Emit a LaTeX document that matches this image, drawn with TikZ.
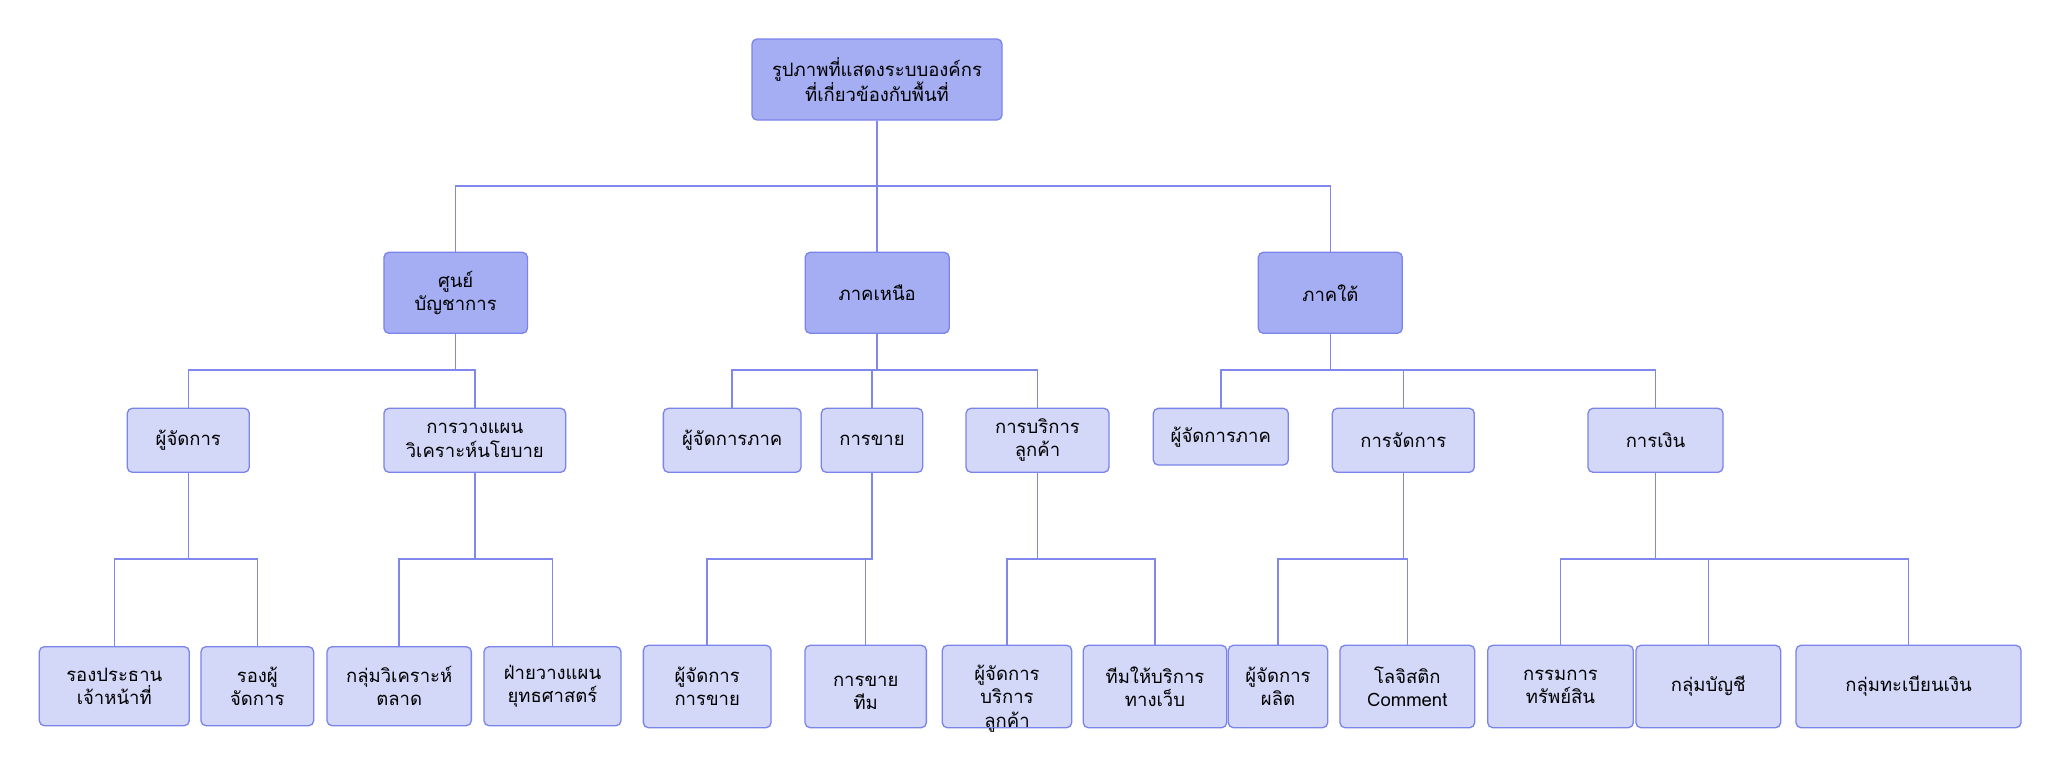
\documentclass[tikz,border=0pt]{standalone}
\usepackage{fontspec}
\setmainfont[Script=Thai]{Loma}
\definecolor{darkfill}{RGB}{165,174,242}
\definecolor{lightfill}{RGB}{211,215,248}
\definecolor{bordercol}{RGB}{123,132,236}
\definecolor{linecol}{RGB}{128,136,238}
\begin{document}
\begin{tikzpicture}[x=1pt,y=-1pt,
  box/.style={draw=bordercol, line width=1.3pt, rounded corners=5pt, align=center,
    inner sep=0pt, font=\fontsize{18.5}{23.3}\selectfont, text=black},
  dark/.style={box, fill=darkfill, minimum height=81pt},
  lvtwo/.style={box, fill=lightfill, minimum height=64pt},
  lvthree/.style={box, fill=lightfill, minimum height=82.4pt},
  lvthreeb/.style={box, fill=lightfill, minimum height=79pt},
  txt/.style={align=center, inner sep=0pt, font=\fontsize{18.5}{23.3}\selectfont, text=black},
  conn/.style={draw=linecol, line width=1.5pt}]
\useasboundingbox (0,0) rectangle (2056,763);
\fill[white] (0,0) rectangle (2056,763);

% level 0
\node[dark, minimum width=250pt] (top) at (877,79.5) {รูปภาพที่แสดงระบบองค์กร\\ที่เกี่ยวข้องกับพื้นที่};

% level 1
\node[dark, minimum width=143.5pt] (sun) at (455.7,292.8) {ศูนย์\\บัญชาการ};
\node[dark, minimum width=144pt] (north) at (877.2,292.8) {ภาคเหนือ};
\node[dark, minimum width=144pt] (south) at (1330.3,292.8) {ภาคใต้};

% level 2
\node[lvtwo, minimum width=122pt] (mgr) at (188.3,440.3) {ผู้จัดการ};
\node[lvtwo, minimum width=181.7pt] (plan) at (474.8,440.3) {การวางแผน\\วิเคราะห์นโยบาย};
\node[lvtwo, minimum width=137.7pt] (nreg) at (732.2,440.3) {ผู้จัดการภาค};
\node[lvtwo, minimum width=101.4pt] (sales) at (872,440.3) {การขาย};
\node[lvtwo, minimum width=143pt] (cserv) at (1037.5,440.3) {การบริการ\\ลูกค้า};
\node[lvtwo, minimum width=135pt, minimum height=56.7pt] (sreg) at (1220.8,436.7) {ผู้จัดการภาค};
\node[lvtwo, minimum width=142pt] (manage) at (1403.3,440.3) {การจัดการ};
\node[lvtwo, minimum width=135pt] (fin) at (1655.5,440.3) {การเงิน};

% level 3
\node[lvthreeb, minimum width=150pt] (vp) at (114.3,686.2) {รองประธาน\\เจ้าหน้าที่};
\node[lvthreeb, minimum width=112.7pt] (dm) at (257.3,686.2) {รองผู้\\จัดการ};
\node[lvthreeb, minimum width=144.3pt] (mkt) at (399.2,686.2) {กลุ่มวิเคราะห์\\ตลาด};
\node[lvthreeb, minimum width=137pt] (strat) at (552.5,686.2) {ฝ่ายวางแผน\\ยุทธศาสตร์};
\node[lvthree, minimum width=127.7pt] (smgr) at (707.2,686.5) {ผู้จัดการ\\การขาย};
\node[lvthree, minimum width=121.3pt] (steam) at (865.7,686.5) {\mbox{}\\การขาย\\ทีม};
\node[lvthree, minimum width=129.4pt] (csmgr) at (1007,686.5) {};
\node[txt] (csmgrtext) at (1007,698.5) {ผู้จัดการ\\บริการ\\ลูกค้า};
\node[lvthree, minimum width=143.4pt] (web) at (1155,686.5) {ทีมให้บริการ\\ทางเว็บ};
\node[lvthree, minimum width=99.4pt] (prod) at (1278,686.5) {ผู้จัดการ\\ผลิต};
\node[lvthree, minimum width=134.7pt] (logi) at (1407.3,686.5) {โลจิสติก\\Comment};
\node[lvthree, minimum width=145.6pt] (asset) at (1560.5,686.5) {กรรมการ\\ทรัพย์สิน};
\node[lvthree, minimum width=144.7pt] (acct) at (1708.3,686.5) {กลุ่มบัญชี};
\node[lvthree, minimum width=225pt] (reg) at (1908.5,686.5) {กลุ่มทะเบียนเงิน};

% buses
\coordinate (b0) at (0,186);
\coordinate (b1) at (0,370);
\coordinate (b2) at (0,559);

% connectors
\foreach \p/\c/\b in {top/sun/b0, top/north/b0, top/south/b0,
  sun/mgr/b1, sun/plan/b1, north/nreg/b1, north/sales/b1, north/cserv/b1,
  south/sreg/b1, south/manage/b1, south/fin/b1,
  mgr/vp/b2, mgr/dm/b2, plan/mkt/b2, plan/strat/b2,
  sales/smgr/b2, sales/steam/b2, cserv/csmgr/b2, cserv/web/b2,
  manage/prod/b2, manage/logi/b2, fin/asset/b2, fin/acct/b2, fin/reg/b2}
  \draw[conn] (\p.south) -- (\p.south |- \b) -| (\c.north);
\end{tikzpicture}
\end{document}
